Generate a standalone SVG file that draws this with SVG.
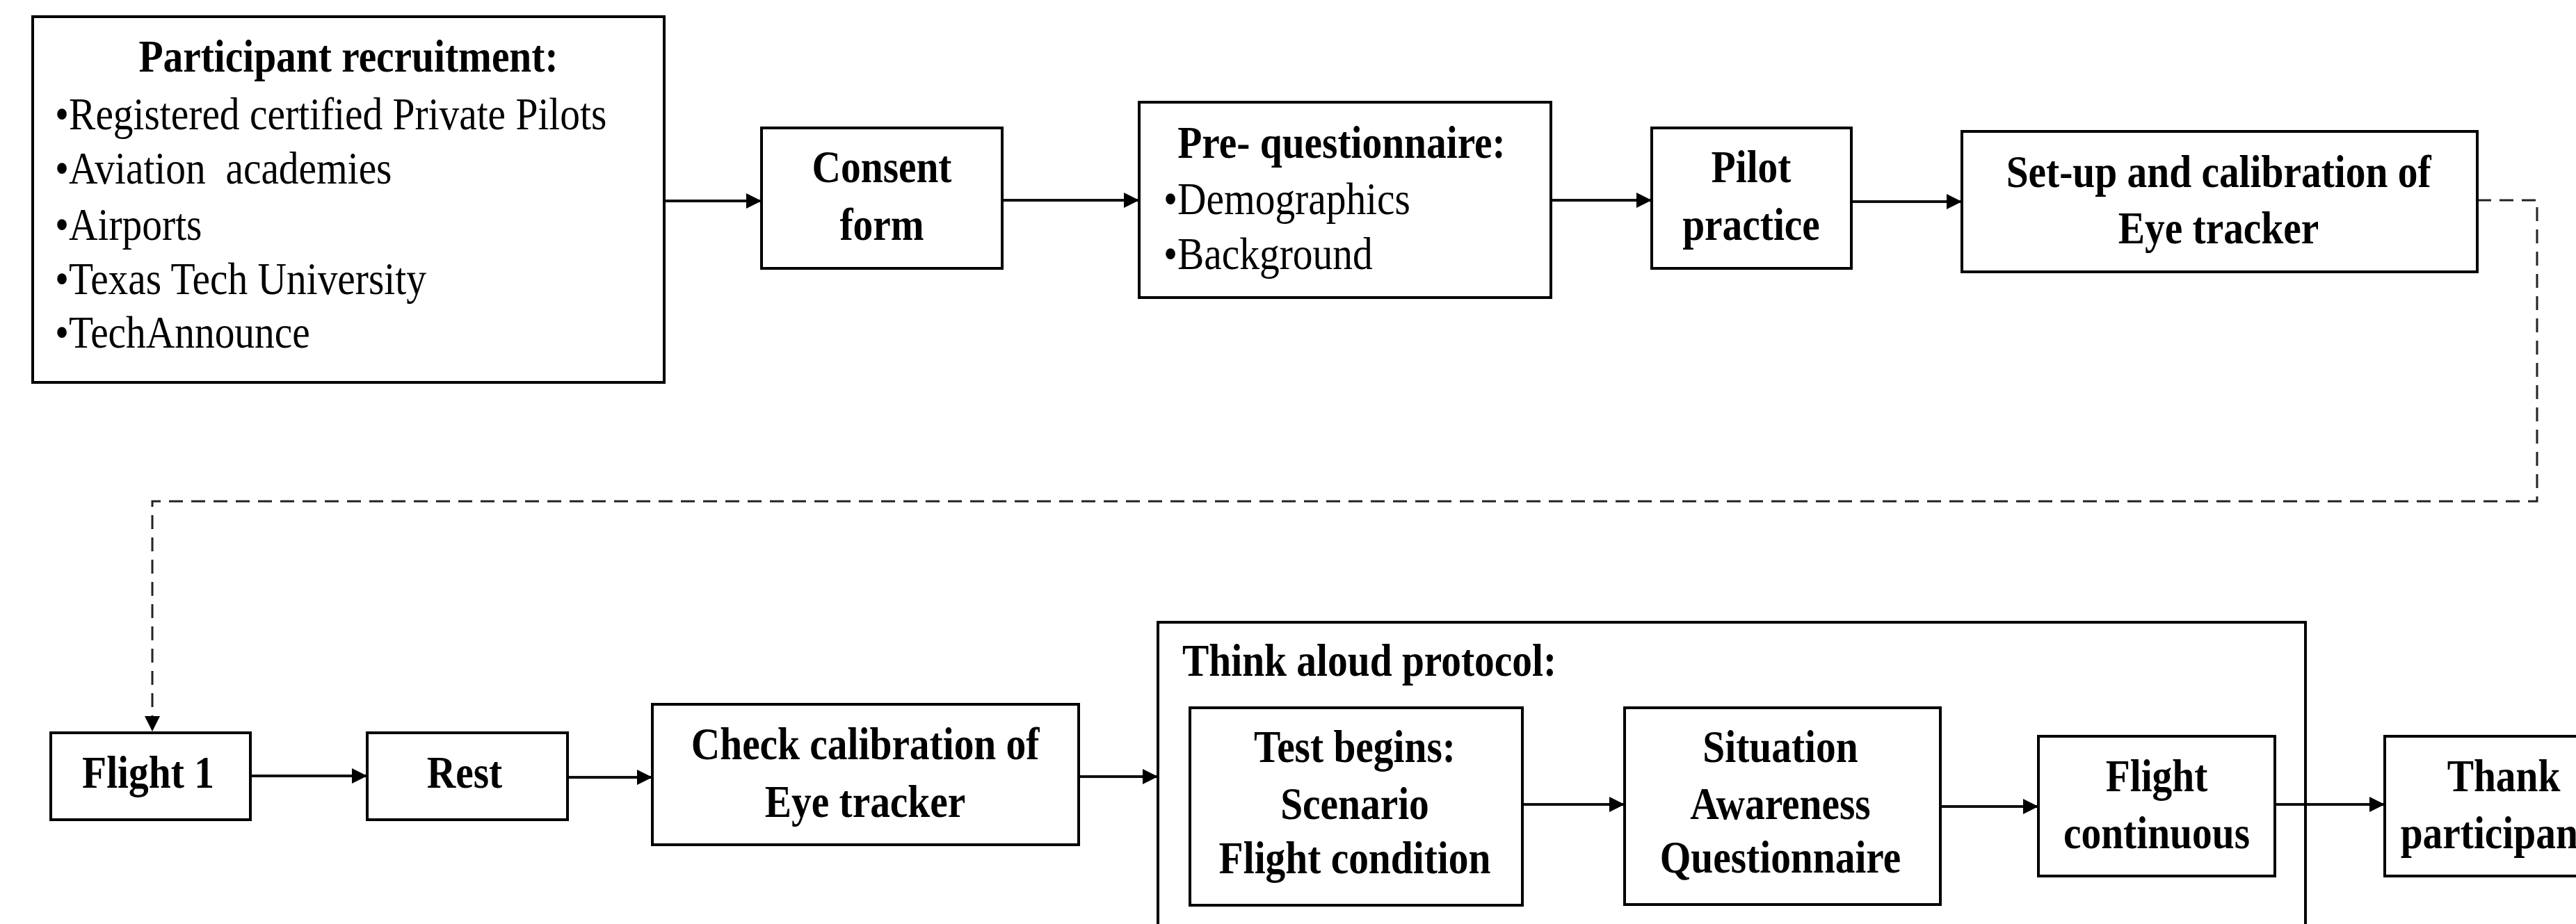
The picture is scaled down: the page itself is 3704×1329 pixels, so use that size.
<svg xmlns="http://www.w3.org/2000/svg" width="3704" height="1329" viewBox="0 0 3704 1329">
<style>
  .box { fill: #fff; stroke: #000; stroke-width: 4; }
  .t { font-family: "Liberation Serif", "Times New Roman", serif; font-size: 66px; fill: #000; transform-box: fill-box; transform-origin: 50% 50%; transform: scaleX(0.87); }
  .b { font-weight: bold; }
  .c { text-anchor: middle; }
  .l { text-anchor: start; transform-origin: 0 50%; }
  .conn { fill: none; stroke: #111; stroke-width: 4; }
  .dash { fill: none; stroke: #222; stroke-width: 3; stroke-dasharray: 20 12; }
</style>
<defs>
  <marker id="arrow" markerUnits="userSpaceOnUse" markerWidth="24" markerHeight="24" refX="22" refY="11" orient="auto">
    <path d="M0,0 L22,11 L0,22 z" fill="#000"/>
  </marker>
</defs>
<rect width="3704" height="1329" fill="#fff"/>

<g id="connectors">
  <line class="conn" x1="955" y1="289" x2="1095" y2="289" marker-end="url(#arrow)"/>
  <line class="conn" x1="1441" y1="288" x2="1638" y2="288" marker-end="url(#arrow)"/>
  <line class="conn" x1="2230" y1="288" x2="2375" y2="288" marker-end="url(#arrow)"/>
  <line class="conn" x1="2662" y1="290" x2="2821" y2="290" marker-end="url(#arrow)"/>
  <path class="dash" d="M3562,288 H3648 V721 H219 V1052" marker-end="url(#arrow)"/>
  <line class="conn" x1="360" y1="1116" x2="528" y2="1116" marker-end="url(#arrow)"/>
  <line class="conn" x1="816" y1="1118" x2="938" y2="1118" marker-end="url(#arrow)"/>
  <line class="conn" x1="1551" y1="1117" x2="1665" y2="1117" marker-end="url(#arrow)"/>
  <line class="conn" x1="2189" y1="1157" x2="2336" y2="1157" marker-end="url(#arrow)"/>
  <line class="conn" x1="2790" y1="1160" x2="2931" y2="1160" marker-end="url(#arrow)"/>
  <line class="conn" x1="3271" y1="1157" x2="3429" y2="1157" marker-end="url(#arrow)"/>
</g>

<g id="think-aloud">
  <rect class="box" x="1665" y="895" width="1650" height="460" fill="none" style="fill:none"/>
  <text class="t b l" x="1700" y="972">Think aloud protocol:</text>
</g>

<g id="recruitment">
  <rect class="box" x="47" y="24" width="908" height="526"/>
  <text class="t b c" x="501" y="103">Participant recruitment:</text>
  <text class="t l" x="79" y="186">•Registered certified Private Pilots</text>
  <text class="t l" x="79" y="264" xml:space="preserve">•Aviation  academies</text>
  <text class="t l" x="79" y="345">•Airports</text>
  <text class="t l" x="79" y="423">•Texas Tech University</text>
  <text class="t l" x="79" y="500">•TechAnnounce</text>
</g>

<g id="consent">
  <rect class="box" x="1095" y="184" width="346" height="202"/>
  <text class="t b c" x="1268" y="262">Consent</text>
  <text class="t b c" x="1268" y="345">form</text>
</g>

<g id="pre-questionnaire">
  <rect class="box" x="1638" y="147" width="592" height="281"/>
  <text class="t b c" x="1929" y="227">Pre- questionnaire:</text>
  <text class="t l" x="1673" y="308">•Demographics</text>
  <text class="t l" x="1673" y="387">•Background</text>
</g>

<g id="pilot-practice">
  <rect class="box" x="2375" y="184" width="287" height="202"/>
  <text class="t b c" x="2518" y="262">Pilot</text>
  <text class="t b c" x="2518" y="345">practice</text>
</g>

<g id="setup">
  <rect class="box" x="2821" y="189" width="741" height="202"/>
  <text class="t b c" x="3190" y="269">Set-up and calibration of</text>
  <text class="t b c" x="3190" y="350">Eye tracker</text>
</g>

<g id="flight1">
  <rect class="box" x="73" y="1054" width="287" height="125"/>
  <text class="t b c" x="213" y="1133">Flight 1</text>
</g>

<g id="rest">
  <rect class="box" x="528" y="1054" width="288" height="125"/>
  <text class="t b c" x="668" y="1133">Rest</text>
</g>

<g id="check-calibration">
  <rect class="box" x="938" y="1013" width="613" height="202"/>
  <text class="t b c" x="1244" y="1092">Check calibration of</text>
  <text class="t b c" x="1244" y="1175">Eye tracker</text>
</g>

<g id="test-begins">
  <rect class="box" x="1711" y="1018" width="478" height="284"/>
  <text class="t b c" x="1948" y="1096">Test begins:</text>
  <text class="t b c" x="1948" y="1178">Scenario</text>
  <text class="t b c" x="1948" y="1256">Flight condition</text>
</g>

<g id="situation-awareness">
  <rect class="box" x="2336" y="1018" width="454" height="283"/>
  <text class="t b c" x="2560" y="1096">Situation</text>
  <text class="t b c" x="2560" y="1178">Awareness</text>
  <text class="t b c" x="2560" y="1255">Questionnaire</text>
</g>

<g id="flight-continuous">
  <rect class="box" x="2931" y="1059" width="340" height="201"/>
  <text class="t b c" x="3101" y="1138">Flight</text>
  <text class="t b c" x="3101" y="1220">continuous</text>
</g>

<g id="thank">
  <rect class="box" x="3429" y="1059" width="342" height="201"/>
  <text class="t b c" x="3600" y="1138">Thank</text>
  <text class="t b c" x="3600" y="1220">participants</text>
</g>
</svg>
